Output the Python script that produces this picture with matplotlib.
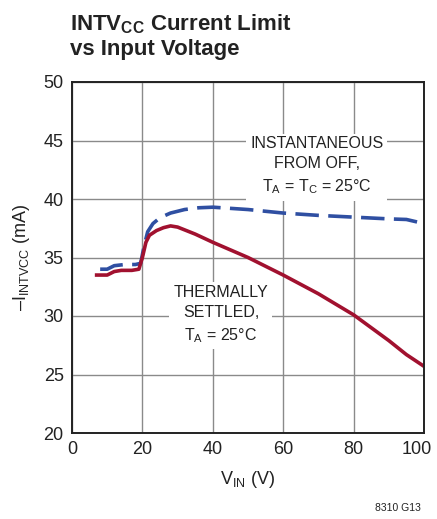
import matplotlib
matplotlib.use("Agg")
import matplotlib.pyplot as plt
from matplotlib.transforms import ScaledTranslation

plt.rcParams['font.family'] = ['Liberation Sans', 'DejaVu Sans']
plt.rcParams['mathtext.fontset'] = 'custom'
plt.rcParams['mathtext.rm'] = 'Liberation Sans'
plt.rcParams['mathtext.bf'] = 'Liberation Sans:bold'

# datos
vin_inst = [8, 10, 12, 15, 18, 19.5, 20.5, 21.5, 23, 25, 28, 32, 36, 40, 50, 60, 70, 80, 90, 95, 100]
i_inst = [34.0, 34.0, 34.3, 34.4, 34.4, 34.5, 36.0, 37.2, 37.9, 38.4, 38.8, 39.1, 39.25, 39.3, 39.1, 38.8, 38.6, 38.45, 38.3, 38.25, 37.9]

vin_term = [7, 10, 12, 14, 17, 19, 20, 21, 22, 24, 26, 28, 30, 35, 40, 50, 60, 70, 80, 90, 95, 100]
i_term = [33.5, 33.5, 33.8, 33.9, 33.9, 34.0, 35.0, 36.3, 36.9, 37.3, 37.55, 37.7, 37.6, 37.0, 36.3, 35.0, 33.5, 31.9, 30.1, 27.9, 26.7, 25.7]

xticks = [0, 20, 40, 60, 80, 100]
yticks = [20, 25, 30, 35, 40, 45, 50]

fig = plt.figure(figsize=(4.37, 5.19), dpi=100)
ax = fig.add_axes([72/437, 1-433/519, 352/437, 351/519])

ax.plot(vin_inst, i_inst, color='#2f4fa2', lw=2.6, dashes=(6.5, 2.6))
ax.plot(vin_term, i_term, color='#a1112f', lw=2.6)

ax.set_xlim(0, 100)
ax.set_ylim(20, 50)
ax.set_xticks(xticks)
ax.set_yticks(yticks)
ax.grid(True, color='#8a8a8a', lw=1)
ax.tick_params(length=0, labelsize=13, pad=6, colors='#222222')
for s in ax.spines.values():
    s.set_color('#222222')
    s.set_linewidth(1.4)

# el "100" se corre un poco a la izquierda como en el original
ult = ax.get_xticklabels()[-1]
ult.set_transform(ult.get_transform() + ScaledTranslation(-7/100, 0, fig.dpi_scale_trans))

ax.set_xlabel('V$_{\\mathregular{IN}}$ (V)', fontsize=13, color='#222222', labelpad=8)
ax.set_ylabel('–I$_{\\mathregular{INTVCC}}$ (mA)', fontsize=13, color='#222222', labelpad=8)

ax.text(69.5, 42.8, 'INSTANTANEOUS\nFROM OFF,\nT$_{\\mathregular{A}}$ = T$_{\\mathregular{C}}$ = 25°C',
        ha='center', va='center', fontsize=11.5, color='#222222', linespacing=1.45,
        bbox=dict(facecolor='white', edgecolor='none', pad=3))
ax.text(42.3, 30.1, 'THERMALLY\nSETTLED,\nT$_{\\mathregular{A}}$ = 25°C',
        ha='center', va='center', fontsize=11.5, color='#222222', linespacing=1.45,
        bbox=dict(facecolor='white', edgecolor='none', pad=3))

fig.text(70/437, 1-36/519, 'INTV$_{\\mathregular{CC}}$ Current Limit\nvs Input Voltage', fontsize=16,
         fontweight='bold', va='center', ha='left', color='#222222', linespacing=1.15)
fig.text(421/437, 1-508/519, '8310 G13', fontsize=7.5, ha='right', va='center', color='#222222')

fig.savefig('out.png', dpi=100)
